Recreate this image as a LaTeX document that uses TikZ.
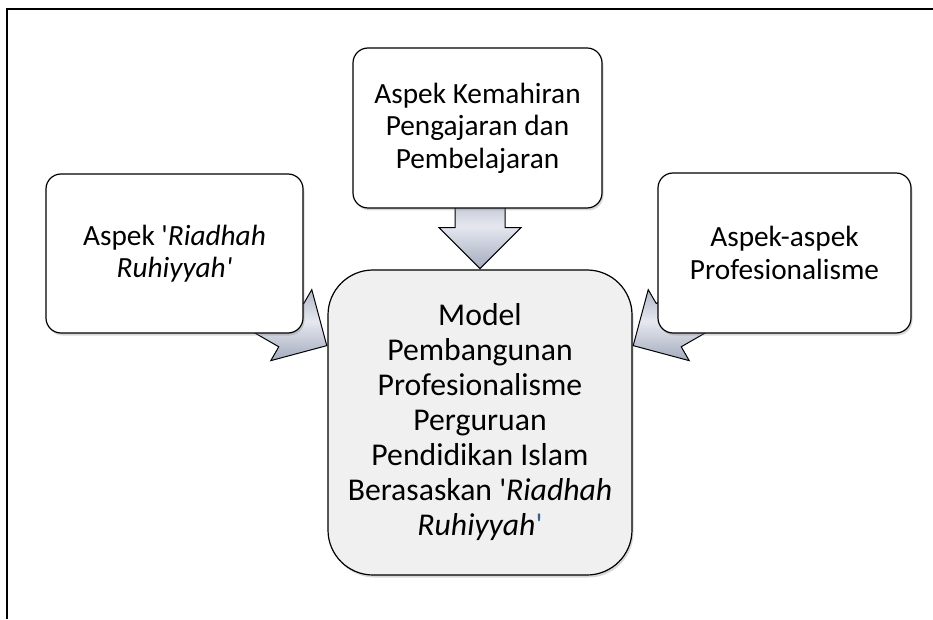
\documentclass[tikz,border=0pt]{standalone}
\usepackage{fontspec}
\setmainfont{Carlito}[Ligatures=TeXOff]
\usetikzlibrary{calc}
\usetikzlibrary{shapes.arrows}
\usetikzlibrary{shadows}
\definecolor{mgray}{rgb}{0.94, 0.94, 0.94}
\definecolor{marrow}{rgb}{0.64, 0.67, 0.74}
\definecolor{mlight}{rgb}{0.90, 0.91, 0.94}
\definecolor{mquote}{rgb}{0.21, 0.37, 0.60}
\tikzset{aspek/.style = {draw, line width = 1.2pt, fill = white, rounded corners = 15pt, align = center, inner sep = 0,
    font = \fontsize{29.3}{32.5}\selectfont,
    drop shadow = {shadow xshift = 1.5pt, shadow yshift = -2.5pt, opacity = 0.3}}}
\tikzset{modelbox/.style = {draw, line width = 1.2pt, fill = mgray, rounded corners = 45pt, align = center, inner sep = 0,
    font = \fontsize{31.7}{35}\selectfont,
    drop shadow = {shadow xshift = 1.5pt, shadow yshift = -2.5pt, opacity = 0.3}}}
\tikzset{blockarrow/.style = {single arrow, draw, line width = 1pt, inner xsep = 0, inner ysep = 24.5pt,
    single arrow head extend = 16pt, minimum height = 85pt,
    top color = marrow, bottom color = marrow, middle color = mlight}}

\begin{document}
\begin{tikzpicture}[x=1pt, y=1pt]
    \useasboundingbox (0, 0) rectangle (933, 619);
    \draw [line width = 1.2pt] (7, 0) -- (7, 610) -- (933, 610);

    \node [modelbox, minimum width = 304, minimum height = 305] (model) at (480, 196.5)
      {Model\\Pembangunan\\Profesionalisme\\Perguruan\\Pendidikan Islam\\Berasaskan '\textit{Riadhah}\\\textit{Ruhiyyah}\textcolor{mquote}{'}};

    \node [blockarrow, rotate = -90, anchor = tip] (arrowK) at (model.north) {};
    \node [blockarrow, rotate = -30, anchor = tip] (arrowR) at ($(model.west) + (0, 76.5)$) {};
    \node [blockarrow, rotate = 210, anchor = tip] (arrowP) at ($(model.east) + (0, 76.5)$) {};

    \node [aspek, minimum width = 257, minimum height = 159] (riadhah) at (174.5, 365.5)
      {Aspek '\textit{Riadhah}\\\textit{Ruhiyyah'}};
    \node [aspek, minimum width = 249, minimum height = 160] (kemahiran) at (477.5, 491)
      {Aspek Kemahiran\\Pengajaran dan\\Pembelajaran};
    \node [aspek, minimum width = 253, minimum height = 160] (profesional) at (784.5, 366)
      {Aspek-aspek\\Profesionalisme};
  \end{tikzpicture}
\end{document}
